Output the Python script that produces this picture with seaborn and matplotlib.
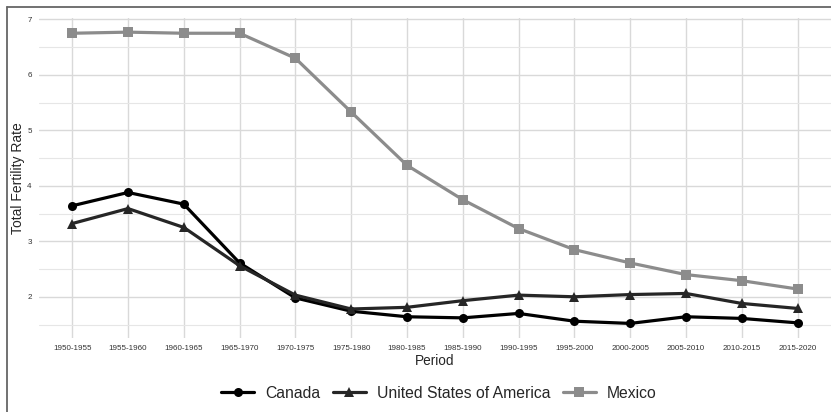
import numpy as np
import pandas as pd
import seaborn as sns
import matplotlib.pyplot as plt
from matplotlib.lines import Line2D

periods = ['1950-1955', '1955-1960', '1960-1965', '1965-1970', '1970-1975', '1975-1980', '1980-1985',
           '1985-1990', '1990-1995', '1995-2000', '2000-2005', '2005-2010', '2010-2015', '2015-2020']
canada = [3.64, 3.88, 3.67, 2.61, 1.98, 1.74, 1.64, 1.62, 1.70, 1.56, 1.52, 1.64, 1.61, 1.53]
usa = [3.32, 3.59, 3.25, 2.56, 2.03, 1.78, 1.81, 1.93, 2.03, 2.00, 2.04, 2.06, 1.88, 1.79]
mexico = [6.75, 6.77, 6.75, 6.75, 6.30, 5.33, 4.37, 3.75, 3.23, 2.85, 2.61, 2.40, 2.29, 2.14]
countries = ['Canada', 'United States of America', 'Mexico']
colors = ['#000000', '#262626', '#8c8c8c']

df = pd.DataFrame({
    'Period': periods * 3,
    'TFR': canada + usa + mexico,
    'Country': [c for c in countries for _ in periods],
})

sns.set_style('whitegrid')
plt.rcParams['font.family'] = ['Liberation Sans', 'DejaVu Sans']

fig = plt.figure(figsize=(8.31, 4.12), dpi=100)
ax = fig.add_axes([0.0466, 0.18, 0.9534, 0.777])

sns.lineplot(data=df, x='Period', y='TFR', hue='Country', style='Country',
             hue_order=countries, style_order=countries, palette=colors,
             markers=['o', '^', 's'], dashes=False, linewidth=2.3, markersize=6.5,
             markeredgewidth=0, sort=False, ax=ax, legend=False)

ax.set_xlim(-0.6, len(periods) - 0.4)
ax.set_ylim(1.26, 7.03)
ax.set_yticks([2, 3, 4, 5, 6, 7])
ax.set_yticks([1.5, 2.5, 3.5, 4.5, 5.5, 6.5], minor=True)
ax.grid(True, which='major', color='#d9d9d9', linewidth=1.0)
ax.grid(True, which='minor', axis='y', color='#e6e6e6', linewidth=0.8)
ax.set_axisbelow(True)
for s in ax.spines.values():
    s.set_visible(False)
ax.tick_params(axis='both', which='both', length=0, labelsize=5.8, labelcolor='#333333', pad=5)
ax.set_xlabel('Period', fontsize=9.8, labelpad=1.5)
ax.set_ylabel('Total Fertility Rate', fontsize=10)
ax.yaxis.set_label_coords(-0.017, 0.5)

handles = [Line2D([], [], color=c, marker=m, linewidth=2.3, markersize=6.5, markeredgewidth=0)
           for c, m in zip(colors, ['o', '^', 's'])]
fig.legend(handles, countries, loc='center', bbox_to_anchor=(0.528, 0.046), ncol=3, frameon=False,
           fontsize=11.3, handlelength=2.1, handletextpad=0.7, columnspacing=0.8)

# figure border (top and left edges visible)
fig.add_artist(Line2D([6.5 / 831, 1], [1 - 6.5 / 412, 1 - 6.5 / 412], color='#666666', linewidth=1.3))
fig.add_artist(Line2D([6.5 / 831, 6.5 / 831], [0, 1 - 6.5 / 412], color='#666666', linewidth=1.3))

fig.savefig('out.png', dpi=100)
